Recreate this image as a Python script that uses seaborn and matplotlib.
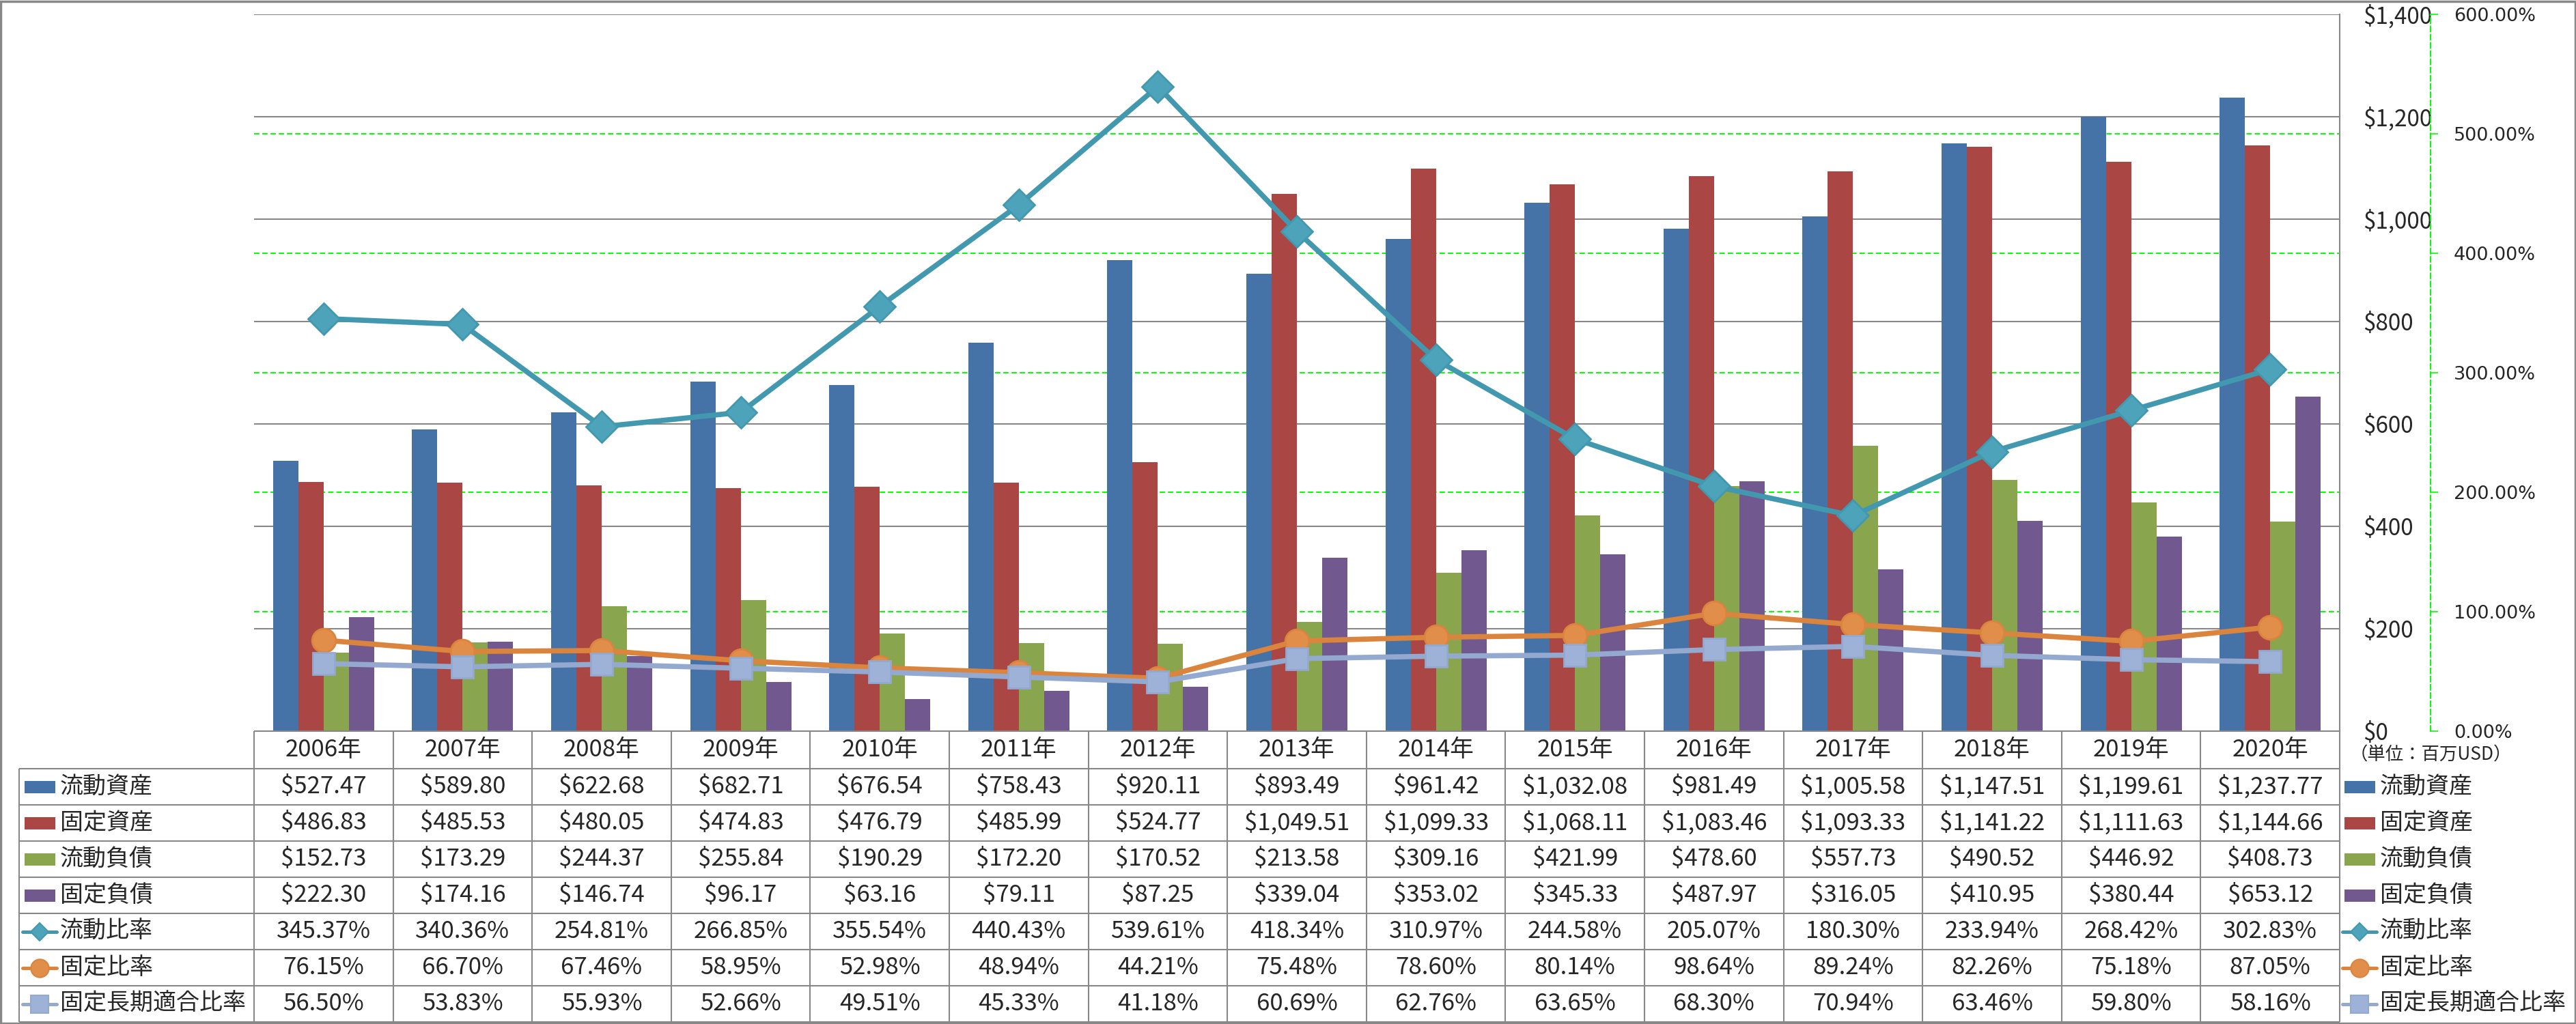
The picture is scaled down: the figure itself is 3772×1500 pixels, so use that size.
import numpy as np
import pandas as pd
import matplotlib
matplotlib.use("Agg")
import matplotlib.pyplot as plt
import seaborn as sns
from matplotlib.patches import Rectangle
from matplotlib.ticker import MultipleLocator, FuncFormatter
from matplotlib.transforms import blended_transform_factory

# data
years = ["2006年", "2007年", "2008年", "2009年", "2010年", "2011年", "2012年", "2013年",
         "2014年", "2015年", "2016年", "2017年", "2018年", "2019年", "2020年"]
current_assets = [527.47, 589.80, 622.68, 682.71, 676.54, 758.43, 920.11, 893.49,
                  961.42, 1032.08, 981.49, 1005.58, 1147.51, 1199.61, 1237.77]
fixed_assets = [486.83, 485.53, 480.05, 474.83, 476.79, 485.99, 524.77, 1049.51,
                1099.33, 1068.11, 1083.46, 1093.33, 1141.22, 1111.63, 1144.66]
current_liab = [152.73, 173.29, 244.37, 255.84, 190.29, 172.20, 170.52, 213.58,
                309.16, 421.99, 478.60, 557.73, 490.52, 446.92, 408.73]
fixed_liab = [222.30, 174.16, 146.74, 96.17, 63.16, 79.11, 87.25, 339.04,
              353.02, 345.33, 487.97, 316.05, 410.95, 380.44, 653.12]
current_ratio = [345.37, 340.36, 254.81, 266.85, 355.54, 440.43, 539.61, 418.34,
                 310.97, 244.58, 205.07, 180.30, 233.94, 268.42, 302.83]
fixed_ratio = [76.15, 66.70, 67.46, 58.95, 52.98, 48.94, 44.21, 75.48,
               78.60, 80.14, 98.64, 89.24, 82.26, 75.18, 87.05]
fixed_lt_ratio = [56.50, 53.83, 55.93, 52.66, 49.51, 45.33, 41.18, 60.69,
                  62.76, 63.65, 68.30, 70.94, 63.46, 59.80, 58.16]

bar_names = ["流動資産", "固定資産", "流動負債", "固定負債"]
bar_colors = ["#4572A7", "#AA4643", "#89A54E", "#71588F"]
line_names = ["流動比率", "固定比率", "固定長期適合比率"]
line_colors = ["#4198AF", "#DB843D", "#93A9CF"]
line_faces = ["#4CA3BA", "#E08E4A", "#9DB2D6"]
line_markers = ["D", "o", "s"]
line_ms = [23, 25, 23]
legend_ms = [13, 19, 19]

bars = pd.DataFrame({"year": years, "流動資産": current_assets, "固定資産": fixed_assets,
                     "流動負債": current_liab, "固定負債": fixed_liab})
bars = bars.melt(id_vars="year", var_name="item", value_name="value")
ratios = [current_ratio, fixed_ratio, fixed_lt_ratio]

sns.set_style("white")
plt.rcParams["font.family"] = ["Noto Sans CJK JP", "DejaVu Sans"]
NUM_FONT = ["Noto Sans CJK JP", "DejaVu Sans"]
JP_FONT = ["Noto Sans CJK JP", "DejaVu Sans"]

W, H = 3773, 1500
L, R, T, B = 372, 3426, 21, 1071   # plot area in pixels
fig = plt.figure(figsize=(W / 100, H / 100), dpi=100)
ax = fig.add_axes([L / W, 1 - B / H, (R - L) / W, (B - T) / H])

sns.barplot(data=bars, x="year", y="value", hue="item", hue_order=bar_names,
            palette=bar_colors, width=0.727, gap=0, linewidth=0, saturation=1,
            legend=False, ax=ax)

ax2 = ax.twinx()
for vals, color, face, mk, ms in zip(ratios, line_colors, line_faces, line_markers, line_ms):
    sns.pointplot(x=years, y=vals, color=color, markers=mk, markersize=ms,
                  linewidth=5.5, errorbar=None, ax=ax2)
    ln = ax2.lines[-1]
    ln.set_marker(mk)
    ln.set_markersize(ms)
    ln.set_linewidth(5.5)
    ln.set_markerfacecolor(face)
    ln.set_markeredgecolor(color)
    ln.set_markeredgewidth(2)

# primary ($) axis, labels sit on the right like the source
ax.set_ylim(0, 1400)
ax.yaxis.set_major_locator(MultipleLocator(200))
ax.yaxis.set_minor_locator(MultipleLocator(1400 / 6))
ax.grid(True, which="major", axis="y", color="#888888", lw=1.5)
ax.grid(True, which="minor", axis="y", color="#00FF00", lw=1.4, ls=(0, (4, 2.2)))
ax.set_axisbelow(True)
ax.yaxis.tick_right()
ax.yaxis.set_major_formatter(FuncFormatter(lambda v, p: f"${v:,.0f}"))
ax.tick_params(axis="y", which="major", left=False, right=True, length=0, pad=24.5,
               labelleft=False, labelright=True, labelsize=24,
               labelfontfamily="Noto Sans CJK JP")
ax.tick_params(axis="y", which="minor", length=0)
ax.tick_params(axis="x", length=0, labelbottom=False)
ax.set_xlabel("")
ax.set_ylabel("")
for s in ["top", "left", "bottom"]:
    ax.spines[s].set_visible(False)
ax.spines["right"].set_color("#888888")
ax.spines["right"].set_linewidth(1.5)

# secondary (%) axis
ax2.set_ylim(0, 600)
ax2.yaxis.set_major_locator(MultipleLocator(100))
ax2.yaxis.set_major_formatter(FuncFormatter(lambda v, p: f"{v:.2f}%"))
ax2.grid(False)
ax2.set_xlabel("")
ax2.set_ylabel("")
for s in ["top", "left", "bottom"]:
    ax2.spines[s].set_visible(False)
ax2.spines["right"].set_position(("outward", 133 * 0.72))
ax2.spines["right"].set_color("#00FF00")
ax2.spines["right"].set_linestyle((0, (4, 2.2)))
ax2.spines["right"].set_linewidth(1.4)
ax2.tick_params(axis="y", direction="out", length=8, width=1.2, color="#00FF00",
                pad=16.5, labelsize=19.5, labelfontfamily="DejaVu Sans")
ax2.tick_params(axis="x", length=0, labelbottom=False)
ax.set_xlim(-0.5, 14.5)
ax2.set_xlim(-0.5, 14.5)

# data table and legends
ov = fig.add_axes([0, 0, 1, 1], zorder=5)
ov.set_xlim(0, W)
ov.set_ylim(H, 0)
ov.axis("off")
ov.patch.set_alpha(0)
bt = blended_transform_factory(ax.transData, ov.transData)

GRID = dict(color="#888888", lw=1.5, solid_capstyle="butt")
HDR, ROW, TL = 1126, 53, 28
n_rows = 7
bottom = HDR + n_rows * ROW
ov.plot([L, R], [B, B], **GRID)
for k in range(n_rows + 1):
    ov.plot([TL, R], [HDR + k * ROW, HDR + k * ROW], **GRID)
ov.plot([TL, TL], [HDR, bottom], **GRID)
for i in range(len(years) + 1):
    ov.plot([i - 0.5, i - 0.5], [B, bottom], transform=bt, **GRID)

for i, y in enumerate(years):
    ov.text(i, (B + HDR) / 2, y, transform=bt, ha="center", va="center",
            fontsize=25, family=NUM_FONT)

row_vals = [[f"${v:,.2f}" for v in s] for s in
            [current_assets, fixed_assets, current_liab, fixed_liab]]
row_vals += [[f"{v:.2f}%" for v in s] for s in ratios]
for k, vals in enumerate(row_vals):
    cy = HDR + (k + 0.5) * ROW
    for i, t in enumerate(vals):
        ov.text(i, cy, t, transform=bt, ha="center", va="center",
                fontsize=25, family=NUM_FONT)


def swatch(cx, cy, k):
    if k < 4:
        ov.add_patch(Rectangle((cx - 22.5, cy - 9), 45, 18, color=bar_colors[k], lw=0))
    else:
        j = k - 4
        ov.plot([cx - 25, cx + 25], [cy, cy], color=line_colors[j], lw=3.6,
                solid_capstyle="round")
        ov.plot([cx], [cy], marker=line_markers[j], ms=legend_ms[j],
                mfc=line_faces[j], mec=line_colors[j], mew=1.5)


names = bar_names + line_names
for k, name in enumerate(names):
    cy = HDR + (k + 0.5) * ROW
    swatch(58.5, cy, k)
    ov.text(88, cy, name, ha="left", va="center", fontsize=24.5, family=JP_FONT)
    swatch(3455.5, cy, k)
    ov.text(3485, cy, name, ha="left", va="center", fontsize=24.5, family=JP_FONT)

ov.text(3559, 1106, "（単位：百万USD）", ha="center", va="center", fontsize=19,
        family=JP_FONT)

ov.add_patch(Rectangle((1.5, 1.5), W - 3, H - 3, fill=False, ec="#888888", lw=2.5,
                       clip_on=False))

fig.savefig("out.png", dpi=100)
